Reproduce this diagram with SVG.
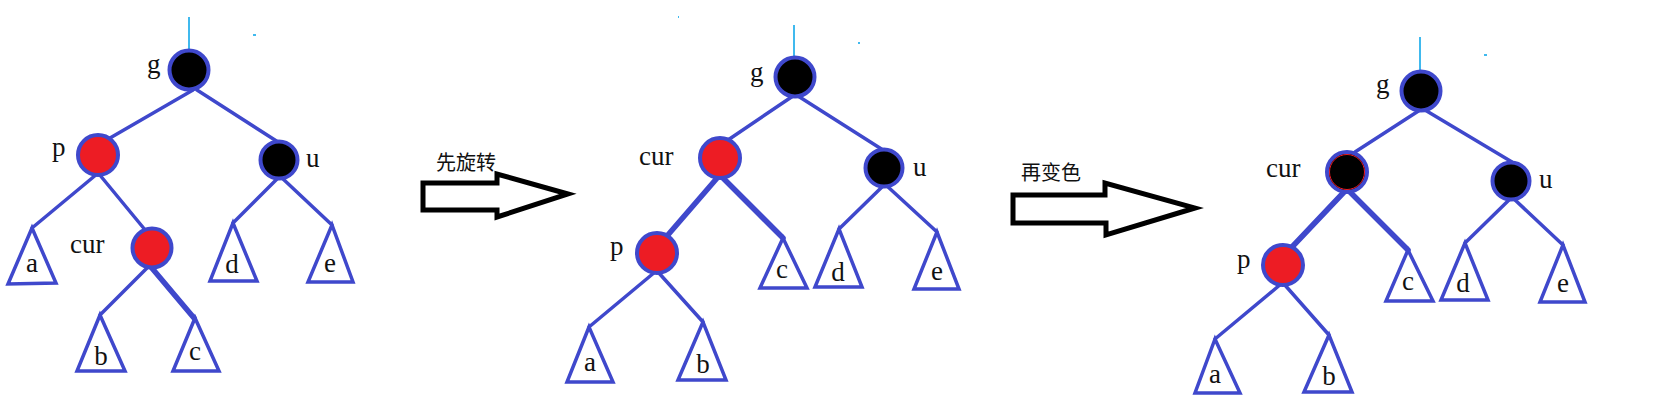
<svg xmlns="http://www.w3.org/2000/svg" width="1679" height="420" viewBox="0 0 1679 420">
<style>
.edge{stroke:#3f48cc;stroke-width:3.5;stroke-linecap:round;fill:none}
.thick{stroke-width:5.5}
.stem{stroke:#00a2e8;stroke-width:1.5;fill:none}
.nb{fill:#000;stroke:#3f48cc;stroke-width:4}
.nr{fill:#ed1c24;stroke:#3f48cc;stroke-width:4}
.tri{fill:#fff;stroke:#3f48cc;stroke-width:3.5;stroke-linejoin:miter}
.lbl{font-family:"Liberation Serif","Times New Roman",serif;font-size:27px;fill:#111}
.mid{text-anchor:middle}
.cjk{font-family:"Noto Sans CJK SC","Noto Sans",sans-serif;font-size:20px;fill:#111}
.arrow{fill:#fff;stroke:#000;stroke-width:5;stroke-linejoin:miter}
</style>
<rect width="1679" height="420" fill="#fff"/>
<g id="connectors">
<!-- tree 1 -->
<line class="stem" x1="189" y1="17" x2="189" y2="52"/>
<line class="stem" x1="253" y1="35" x2="256" y2="35"/>
<line class="edge" x1="193" y1="90" x2="110" y2="138"/>
<line class="edge" x1="197" y1="90" x2="278" y2="142"/>
<line class="edge" x1="97" y1="174" x2="32" y2="228"/>
<line class="edge" x1="99" y1="174" x2="146" y2="231"/>
<line class="edge" x1="148" y1="267" x2="100" y2="315"/>
<line class="edge thick" x1="151" y1="267" x2="194" y2="318"/>
<line class="edge" x1="278" y1="178" x2="233" y2="223"/>
<line class="edge" x1="282" y1="178" x2="332" y2="225"/>
<!-- tree 2 -->
<line class="stem" x1="794" y1="25" x2="794" y2="58"/>
<line class="stem" x1="858" y1="43" x2="860" y2="43"/>
<line class="stem" x1="678" y1="17" x2="679" y2="17"/>
<line class="edge" x1="793" y1="96" x2="728" y2="140"/>
<line class="edge" x1="798" y1="96" x2="883" y2="150"/>
<line class="edge thick" x1="718" y1="177" x2="667" y2="236"/>
<line class="edge thick" x1="722" y1="177" x2="783" y2="238"/>
<line class="edge" x1="655" y1="272" x2="589" y2="327"/>
<line class="edge" x1="658" y1="272" x2="703" y2="322"/>
<line class="edge" x1="883" y1="186" x2="839" y2="229"/>
<line class="edge" x1="887" y1="186" x2="937" y2="232"/>
<!-- tree 3 -->
<line class="stem" x1="1420" y1="37" x2="1420" y2="72"/>
<line class="stem" x1="1484" y1="55" x2="1487" y2="55"/>
<line class="edge" x1="1420" y1="110" x2="1355" y2="152"/>
<line class="edge" x1="1425" y1="110" x2="1512" y2="162"/>
<line class="edge thick" x1="1345" y1="191" x2="1292" y2="247"/>
<line class="edge thick" x1="1349" y1="191" x2="1408" y2="250"/>
<line class="edge" x1="1281" y1="284" x2="1215" y2="339"/>
<line class="edge" x1="1284" y1="284" x2="1329" y2="335"/>
<line class="edge" x1="1510" y1="199" x2="1465" y2="243"/>
<line class="edge" x1="1514" y1="199" x2="1563" y2="245"/>
</g>
<!-- tree 1 nodes -->
<g id="t1-g"><circle class="nb" cx="189" cy="70" r="19.5"/><text class="lbl" x="147" y="73">g</text></g>
<g id="t1-p"><circle class="nr" cx="98" cy="155" r="20"/><text class="lbl" x="52" y="156">p</text></g>
<g id="t1-u"><circle class="nb" cx="279" cy="160" r="18.5"/><text class="lbl" x="306" y="167">u</text></g>
<g id="t1-cur"><circle class="nr" cx="152" cy="248" r="19.5"/><text class="lbl" x="70" y="253">cur</text></g>
<g id="t1-a"><polygon class="tri" points="32,228 8,284 56,283"/><text class="lbl mid" x="32" y="272">a</text></g>
<g id="t1-b"><polygon class="tri" points="100,315 77,371 125,371"/><text class="lbl mid" x="101" y="365">b</text></g>
<g id="t1-c"><polygon class="tri" points="195,318 173,371 219,371"/><text class="lbl mid" x="195" y="360">c</text></g>
<g id="t1-d"><polygon class="tri" points="233,223 210,281 257,281"/><text class="lbl mid" x="232" y="273">d</text></g>
<g id="t1-e"><polygon class="tri" points="332,225 308,282 353,282"/><text class="lbl mid" x="330" y="272">e</text></g>
<!-- arrow 1 -->
<g id="arrow1">
<polygon class="arrow" points="423,183 497,183 497,174 568,194 497,217 497,210 423,210"/>
<text class="cjk" x="436" y="170">先旋转</text>
</g>
<!-- tree 2 nodes -->
<g id="t2-g"><circle class="nb" cx="795" cy="77" r="19.5"/><text class="lbl" x="750" y="81">g</text></g>
<g id="t2-cur"><circle class="nr" cx="720" cy="158" r="20"/><text class="lbl" x="639" y="165">cur</text></g>
<g id="t2-u"><circle class="nb" cx="884" cy="168" r="18.5"/><text class="lbl" x="913" y="176">u</text></g>
<g id="t2-p"><circle class="nr" cx="657" cy="253" r="20"/><text class="lbl" x="610" y="255">p</text></g>
<g id="t2-a"><polygon class="tri" points="589,327 567,382 613,382"/><text class="lbl mid" x="590" y="371">a</text></g>
<g id="t2-b"><polygon class="tri" points="703,322 678,380 726,380"/><text class="lbl mid" x="703" y="373">b</text></g>
<g id="t2-c"><polygon class="tri" points="783,238 760,288 807,288"/><text class="lbl mid" x="782" y="278">c</text></g>
<g id="t2-d"><polygon class="tri" points="839,229 815,287 862,287"/><text class="lbl mid" x="838" y="281">d</text></g>
<g id="t2-e"><polygon class="tri" points="937,232 914,289 959,289"/><text class="lbl mid" x="937" y="280">e</text></g>
<!-- arrow 2 -->
<g id="arrow2">
<polygon class="arrow" points="1013,195 1105,195 1105,183 1195,208 1106,235 1106,223 1013,223"/>
<text class="cjk" x="1021" y="180">再变色</text>
</g>
<!-- tree 3 nodes -->
<g id="t3-g"><circle class="nb" cx="1421" cy="91" r="19.5"/><text class="lbl" x="1376" y="93">g</text></g>
<g id="t3-cur"><circle class="nb" cx="1347" cy="172" r="20"/><circle cx="1347" cy="172" r="17.5" fill="none" stroke="#ed1c24" stroke-width="1"/><text class="lbl" x="1266" y="177">cur</text></g>
<g id="t3-u"><circle class="nb" cx="1511" cy="181" r="18.5"/><text class="lbl" x="1539" y="188">u</text></g>
<g id="t3-p"><circle class="nr" cx="1283" cy="265" r="20"/><text class="lbl" x="1237" y="268">p</text></g>
<g id="t3-a"><polygon class="tri" points="1215,339 1195,393 1240,393"/><text class="lbl mid" x="1215" y="383">a</text></g>
<g id="t3-b"><polygon class="tri" points="1329,335 1304,392 1352,392"/><text class="lbl mid" x="1329" y="385">b</text></g>
<g id="t3-c"><polygon class="tri" points="1408,250 1386,301 1433,301"/><text class="lbl mid" x="1408" y="290">c</text></g>
<g id="t3-d"><polygon class="tri" points="1465,243 1441,300 1488,300"/><text class="lbl mid" x="1463" y="292">d</text></g>
<g id="t3-e"><polygon class="tri" points="1563,245 1540,302 1585,302"/><text class="lbl mid" x="1563" y="292">e</text></g>
</svg>
